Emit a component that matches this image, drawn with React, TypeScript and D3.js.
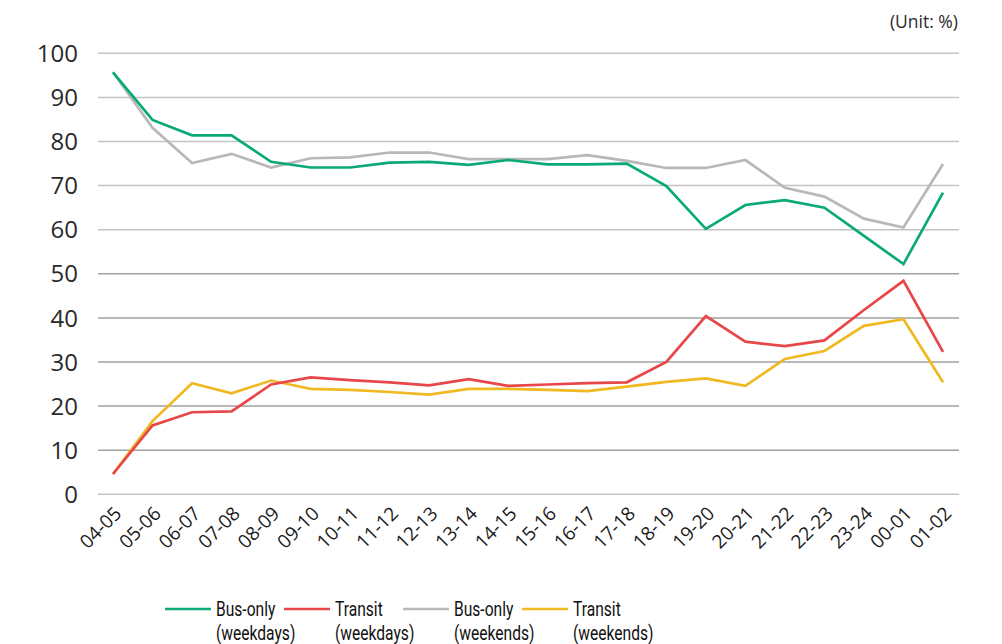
import React, { useEffect, useRef } from "react";
import * as d3 from "d3";

const years = [
  "04-05", "05-06", "06-07", "07-08", "08-09", "09-10", "10-11", "11-12",
  "12-13", "13-14", "14-15", "15-16", "16-17", "17-18", "18-19", "19-20",
  "20-21", "21-22", "22-23", "23-24", "00-01", "01-02",
];
const busWeekdays = [
  95.7, 84.9, 81.4, 81.4, 75.4, 74.1, 74.1, 75.2, 75.4, 74.7, 75.8, 74.8,
  74.8, 75.0, 69.9, 60.2, 65.6, 66.7, 65.0, 58.6, 52.2, 68.4,
];
const transitWeekdays = [
  4.6, 15.6, 18.6, 18.8, 24.9, 26.5, 25.9, 25.4, 24.7, 26.1, 24.6, 24.9,
  25.2, 25.4, 30.0, 40.4, 34.6, 33.6, 34.9, 41.8, 48.4, 32.3,
];
const busWeekends = [
  95.7, 83.1, 75.1, 77.2, 74.1, 76.2, 76.4, 77.5, 77.5, 76.0, 76.0, 76.0,
  76.9, 75.6, 74.0, 74.0, 75.8, 69.5, 67.5, 62.5, 60.5, 74.9,
];
const transitWeekends = [
  4.6, 16.6, 25.2, 22.9, 25.8, 23.9, 23.7, 23.2, 22.6, 23.9, 23.9, 23.7,
  23.4, 24.4, 25.5, 26.3, 24.6, 30.7, 32.5, 38.2, 39.7, 25.4,
];
const yTicks = [0, 10, 20, 30, 40, 50, 60, 70, 80, 90, 100];

const series = [
  { name: ["Bus-only", "(weekdays)"], values: busWeekdays, color: "#0aa97a" },
  { name: ["Transit", "(weekdays)"], values: transitWeekdays, color: "#e8474a" },
  { name: ["Bus-only", "(weekends)"], values: busWeekends, color: "#b8b8b8" },
  { name: ["Transit", "(weekends)"], values: transitWeekends, color: "#f0b922" },
];

const App = () => {
  const ref = useRef<SVGSVGElement>(null);

  useEffect(() => {
    const svg = d3.select(ref.current);
    svg.selectAll("*").remove();

    const left = 98;
    const right = 959;
    const top = 53.3;
    const bottom = 494.3;

    const x = d3.scalePoint().domain(years).range([113, 943]);
    const y = d3.scaleLinear().domain([0, 100]).range([bottom, top]);

    const font = "'Open Sans', 'Noto Sans', sans-serif";

    // gridlines
    svg.append("g")
      .selectAll("line")
      .data(yTicks)
      .enter()
      .append("line")
      .attr("x1", left)
      .attr("x2", right)
      .attr("y1", (d) => y(d))
      .attr("y2", (d) => y(d))
      .attr("stroke", (d) => (d >= 60 || d === 0 ? "#c4c4c4" : "#a0a0a0"))
      .attr("stroke-width", 1.5);

    // y labels
    svg.append("g")
      .selectAll("text")
      .data(yTicks)
      .enter()
      .append("text")
      .attr("x", 78)
      .attr("y", (d) => y(d))
      .attr("dy", "0.36em")
      .attr("text-anchor", "end")
      .style("font-family", font)
      .style("font-size", "24px")
      .style("fill", "#2a2a2a")
      .text((d) => d);

    // x labels
    svg.append("g")
      .selectAll("text")
      .data(years)
      .enter()
      .append("text")
      .attr("transform", (d) => `translate(${x(d)! + 5},${510}) rotate(-45)`)
      .attr("text-anchor", "end")
      .attr("dy", "0.35em")
      .style("font-family", font)
      .style("font-size", "19px")
      .style("fill", "#1a1a1a")
      .text((d) => d);

    const line = d3
      .line<number>()
      .x((_, i) => x(years[i])!)
      .y((d) => y(d));

    // draw order: gray, green, yellow, red
    [2, 0, 3, 1].forEach((i) => {
      svg.append("path")
        .datum(series[i].values)
        .attr("d", line)
        .attr("fill", "none")
        .attr("stroke", series[i].color)
        .attr("stroke-width", 2.7)
        .attr("stroke-linejoin", "miter");
    });

    // unit
    svg.append("text")
      .attr("x", 958)
      .attr("y", 28)
      .attr("text-anchor", "end")
      .style("font-family", font)
      .style("font-size", "17.5px")
      .style("fill", "#2a2a2a")
      .text("(Unit: %)");

    // legend
    const legend = svg.append("g").attr("transform", "translate(165,609)");
    series.forEach((s, i) => {
      const g = legend.append("g").attr("transform", `translate(${i * 119},0)`);
      g.append("line")
        .attr("x1", 0)
        .attr("x2", 46)
        .attr("y1", 0)
        .attr("y2", 0)
        .attr("stroke", s.color)
        .attr("stroke-width", 2.5);
      s.name.forEach((t, j) => {
        g.append("text")
          .attr("transform", `translate(51,${j * 24}) scale(0.78,1)`)
          .attr("dy", "0.35em")
          .style("font-family", "Roboto, sans-serif")
          .style("font-size", "20px")
          .style("fill", "#111")
          .text(t);
      });
    });
  }, []);

  return (
    <svg
      ref={ref}
      width={1002}
      height={644}
      style={{ position: "absolute", left: 0, top: 0, background: "#fff" }}
    ></svg>
  );
};

export default App;
